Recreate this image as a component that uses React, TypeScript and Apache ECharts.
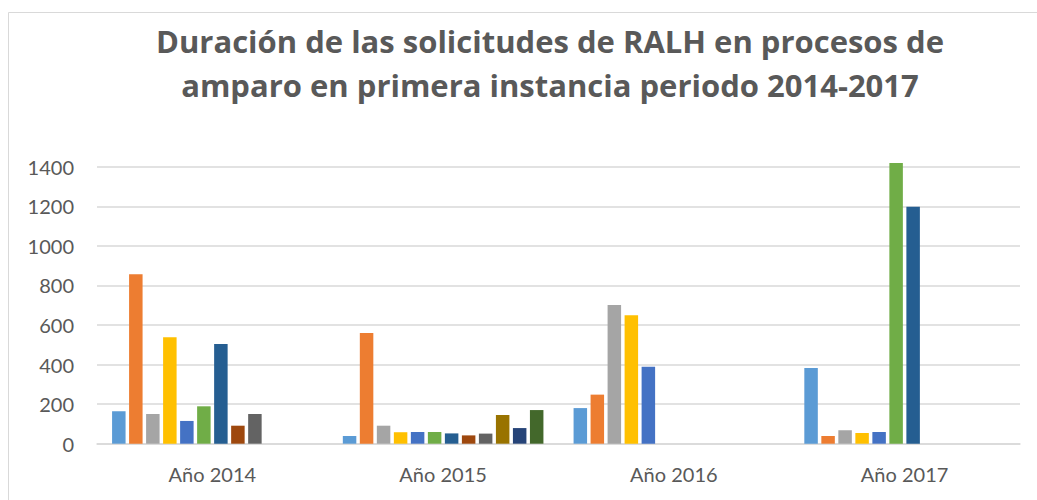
import React, { useEffect, useRef } from "react";
import * as echarts from "echarts";

const categories = ["Año 2014", "Año 2015", "Año 2016", "Año 2017"];
const seriesNames = [
  "Serie 1", "Serie 2", "Serie 3", "Serie 4", "Serie 5", "Serie 6",
  "Serie 7", "Serie 8", "Serie 9", "Serie 10", "Serie 11", "Serie 12",
];
const s1 = [164, 39, 180, 383];
const s2 = [856, 560, 248, 39];
const s3 = [150, 91, 701, 68];
const s4 = [538, 58, 649, 54];
const s5 = [115, 59, 389, 59];
const s6 = [189, 59, null, 1419];
const s7 = [504, 52, null, 1198];
const s8 = [91, 42, null, null];
const s9 = [150, 51, null, null];
const s10 = [null, 145, null, null];
const s11 = [null, 79, null, null];
const s12 = [null, 170, null, null];
const seriesValues = [s1, s2, s3, s4, s5, s6, s7, s8, s9, s10, s11, s12];
const yTicks = [0, 200, 400, 600, 800, 1000, 1200, 1400];

const colors = [
  "#5B9BD5", "#ED7D31", "#A5A5A5", "#FFC000", "#4472C4", "#70AD47",
  "#255E91", "#9E480E", "#636363", "#997300", "#264478", "#43682B",
];

const FONT = "Lato, 'Open Sans', sans-serif";
const TITLE_FONT = "'Open Sans', sans-serif";

export default function App() {
  const ref = useRef<HTMLDivElement>(null);
  useEffect(() => {
    if (!ref.current) return;
    const chart = echarts.init(ref.current, null, { renderer: "svg" });
    chart.setOption({
      animation: false,
      color: colors,
      title: {
        text: "Duración de las solicitudes de RALH en procesos de\namparo en primera instancia periodo 2014-2017",
        left: 550,
        top: 19,
        textAlign: "center",
        padding: 0,
        textStyle: {
          fontFamily: TITLE_FONT,
          fontWeight: "bold",
          fontSize: 31,
          lineHeight: 44,
          color: "#595959",
        },
      },
      graphic: [
        {
          type: "rect",
          shape: { x: 8.5, y: 12.5, width: 1200, height: 700 },
          style: { fill: "none", stroke: "#d9d9d9", lineWidth: 1 },
          silent: true,
          z: -1,
        },
      ],
      grid: { left: 97, right: 17, top: 166.7, bottom: 56.3, containLabel: false },
      xAxis: {
        type: "category",
        data: categories,
        axisLine: { lineStyle: { color: "#d9d9d9", width: 1.5 } },
        axisTick: { show: false },
        axisLabel: {
          fontFamily: FONT,
          fontSize: 20,
          color: "#595959",
          margin: 20,
        },
      },
      yAxis: {
        type: "value",
        min: yTicks[0],
        max: yTicks[yTicks.length - 1],
        interval: 200,
        axisLine: { show: false },
        axisTick: { show: false },
        splitLine: { lineStyle: { color: "#d9d9d9", width: 1.5 } },
        axisLabel: {
          fontFamily: FONT,
          fontSize: 20,
          color: "#595959",
          margin: 23,
          formatter: (v: number) => String(v),
        },
      },
      series: seriesValues.map((vals, i) => ({
        name: seriesNames[i],
        type: "bar",
        data: vals,
        barWidth: 13.5,
        barGap: "26%",
        clip: false,
      })),
    });
    return () => chart.dispose();
  }, []);
  return (
    <div
      ref={ref}
      style={{ position: "absolute", left: 0, top: 0, width: 1037, height: 500 }}
    />
  );
}
